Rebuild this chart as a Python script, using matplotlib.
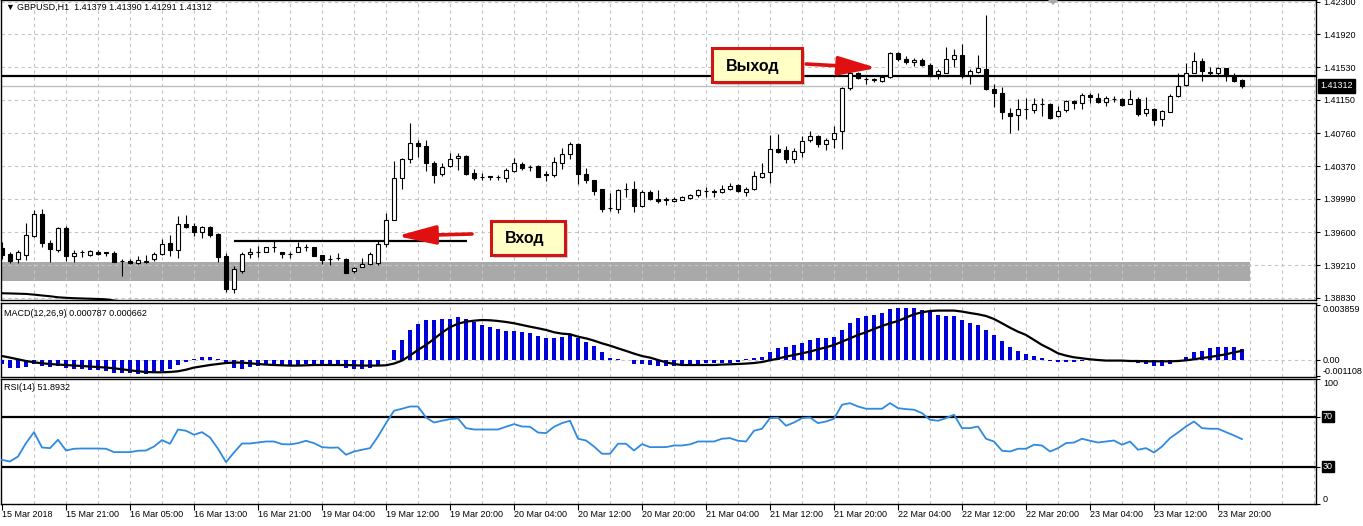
import matplotlib.pyplot as plt
import matplotlib.patches as mpatches
import matplotlib.transforms as mtransforms
import numpy as np

W, H = 1363, 526

# GBPUSD H1, bar by bar
opens = [1.3941, 1.3934, 1.3928, 1.3933, 1.3955, 1.3981, 1.3947, 1.3939, 1.3965, 1.3932,
         1.3936, 1.3933, 1.3937, 1.3936, 1.3935, 1.3926, 1.3926, 1.3924, 1.3925, 1.3928,
         1.3934, 1.3947, 1.3939, 1.3969, 1.3967, 1.3960, 1.3966, 1.3958, 1.3932, 1.3893,
         1.3914, 1.3934, 1.3937, 1.3937, 1.3942, 1.3936, 1.3934, 1.3937, 1.3943, 1.3942,
         1.3933, 1.3928, 1.3930, 1.3928, 1.3914, 1.3919, 1.3922, 1.3924, 1.3946, 1.3974,
         1.4023, 1.4046, 1.4064, 1.4061, 1.4041, 1.4028, 1.4037, 1.4047, 1.4049, 1.4029,
         1.4024, 1.4026, 1.4024, 1.4023, 1.4032, 1.4040, 1.4036, 1.4037, 1.4028, 1.4027,
         1.4041, 1.4051, 1.4063, 1.4028, 1.4021, 1.4010, 1.3988, 1.3987, 1.4010, 1.4010,
         1.3991, 1.4007, 1.3999, 1.3998, 1.3996, 1.3998, 1.4000, 1.4003, 1.4008, 1.4008,
         1.4007, 1.4011, 1.4015, 1.4007, 1.4010, 1.4025, 1.4030, 1.4057, 1.4056, 1.4046,
         1.4054, 1.4068, 1.4073, 1.4063, 1.4069, 1.4078, 1.4129, 1.4147, 1.4139, 1.4138,
         1.4137, 1.4142, 1.4170, 1.4163, 1.4159, 1.4162, 1.4156, 1.4145, 1.4147, 1.4163,
         1.4168, 1.4144, 1.4148, 1.4151, 1.4128, 1.4123, 1.4100, 1.4097, 1.4104, 1.4103,
         1.4110, 1.4110, 1.4096, 1.4103, 1.4114, 1.4111, 1.4121, 1.4117, 1.4112, 1.4116,
         1.4116, 1.4110, 1.4116, 1.4099, 1.4104, 1.4092, 1.4101, 1.4119, 1.4132, 1.4147,
         1.4161, 1.4147, 1.4147, 1.4152, 1.4143, 1.41379]
highs = [1.3948, 1.3937, 1.3939, 1.3971, 1.3986, 1.3987, 1.3951, 1.3966, 1.3967, 1.3939,
         1.3939, 1.3939, 1.3939, 1.3936, 1.3938, 1.3928, 1.3928, 1.3932, 1.3933, 1.3937,
         1.3952, 1.3957, 1.3979, 1.3980, 1.3971, 1.3967, 1.3967, 1.3959, 1.3935, 1.3920,
         1.3937, 1.3941, 1.3944, 1.3943, 1.3949, 1.3937, 1.3937, 1.3948, 1.3946, 1.3943,
         1.3933, 1.3933, 1.3935, 1.3929, 1.3919, 1.3930, 1.3937, 1.3949, 1.3982, 1.4043,
         1.4047, 1.4088, 1.4068, 1.4068, 1.4043, 1.4041, 1.4053, 1.4053, 1.4050, 1.4034,
         1.4029, 1.4026, 1.4027, 1.4035, 1.4047, 1.4042, 1.4039, 1.4039, 1.4031, 1.4048,
         1.4059, 1.4065, 1.4064, 1.4035, 1.4021, 1.4011, 1.4006, 1.4010, 1.4018, 1.4020,
         1.4009, 1.4009, 1.4009, 1.4001, 1.4001, 1.4002, 1.4005, 1.4011, 1.4013, 1.4010,
         1.4015, 1.4017, 1.4016, 1.4013, 1.4031, 1.4041, 1.4074, 1.4075, 1.4061, 1.4058,
         1.4072, 1.4079, 1.4074, 1.4070, 1.4084, 1.4130, 1.4149, 1.4148, 1.4142, 1.4140,
         1.4143, 1.4171, 1.4171, 1.4166, 1.4164, 1.4164, 1.4158, 1.4151, 1.4177, 1.4174,
         1.4180, 1.4151, 1.4168, 1.4214, 1.4134, 1.4130, 1.4105, 1.4116, 1.4117, 1.4117,
         1.4117, 1.4111, 1.4108, 1.4115, 1.4115, 1.4123, 1.4123, 1.4123, 1.4119, 1.4119,
         1.4117, 1.4127, 1.4118, 1.4118, 1.4105, 1.4103, 1.4122, 1.4147, 1.4158, 1.4171,
         1.4164, 1.4154, 1.4154, 1.4152, 1.4146, 1.41390]
lows = [1.3928, 1.3924, 1.3924, 1.3927, 1.3954, 1.3942, 1.3925, 1.3937, 1.3926, 1.3925,
        1.3931, 1.3932, 1.3933, 1.3932, 1.3925, 1.3908, 1.3923, 1.3923, 1.3924, 1.3926,
        1.3933, 1.3932, 1.3930, 1.3965, 1.3955, 1.3953, 1.3954, 1.3925, 1.3890, 1.3889,
        1.3912, 1.3930, 1.3931, 1.3936, 1.3937, 1.3930, 1.3930, 1.3937, 1.3938, 1.3932,
        1.3923, 1.3921, 1.3927, 1.3912, 1.3912, 1.3919, 1.3921, 1.3921, 1.3942, 1.3974,
        1.4010, 1.4041, 1.4048, 1.4032, 1.4017, 1.4026, 1.4036, 1.4033, 1.4027, 1.4021,
        1.4021, 1.4021, 1.4021, 1.4019, 1.4030, 1.4033, 1.4032, 1.4024, 1.4020, 1.4025,
        1.4034, 1.4046, 1.4016, 1.4018, 1.4003, 1.3984, 1.3985, 1.3982, 1.4001, 1.3984,
        1.3989, 1.3998, 1.3994, 1.3992, 1.3995, 1.3997, 1.3999, 1.4001, 1.4001, 1.4001,
        1.4006, 1.4009, 1.4007, 1.4002, 1.4009, 1.4023, 1.4017, 1.4053, 1.4041, 1.4041,
        1.4048, 1.4066, 1.4060, 1.4056, 1.4059, 1.4057, 1.4127, 1.4139, 1.4134, 1.4136,
        1.4136, 1.4140, 1.4160, 1.4157, 1.4155, 1.4155, 1.4143, 1.4139, 1.4147, 1.4153,
        1.4141, 1.4134, 1.4147, 1.4127, 1.4107, 1.4092, 1.4076, 1.4080, 1.4093, 1.4100,
        1.4096, 1.4093, 1.4095, 1.4101, 1.4104, 1.4104, 1.4111, 1.4111, 1.4108, 1.4113,
        1.4108, 1.4110, 1.4096, 1.4096, 1.4086, 1.4084, 1.4101, 1.4118, 1.4131, 1.4147,
        1.4137, 1.4143, 1.4143, 1.4137, 1.4136, 1.41291]
closes = [1.3933, 1.3926, 1.3937, 1.3957, 1.3981, 1.3947, 1.3940, 1.3965, 1.3932, 1.3935,
          1.3937, 1.3938, 1.3934, 1.3935, 1.3925, 1.3926, 1.3924, 1.3927, 1.3926, 1.3934,
          1.3946, 1.3939, 1.3969, 1.3966, 1.3960, 1.3966, 1.3957, 1.3931, 1.3893, 1.3917,
          1.3934, 1.3937, 1.3937, 1.3942, 1.3943, 1.3934, 1.3934, 1.3942, 1.3942, 1.3932,
          1.3927, 1.3928, 1.3929, 1.3912, 1.3918, 1.3923, 1.3934, 1.3946, 1.3974, 1.4023,
          1.4046, 1.4064, 1.4061, 1.4041, 1.4027, 1.4036, 1.4046, 1.4049, 1.4028, 1.4023,
          1.4024, 1.4024, 1.4024, 1.4033, 1.4041, 1.4035, 1.4036, 1.4025, 1.4027, 1.4042,
          1.4051, 1.4063, 1.4028, 1.4021, 1.4008, 1.3987, 1.3988, 1.4009, 1.4010, 1.3990,
          1.4007, 1.3999, 1.3996, 1.3998, 1.3999, 1.4001, 1.4003, 1.4009, 1.4008, 1.4007,
          1.4011, 1.4014, 1.4008, 1.4010, 1.4026, 1.4029, 1.4057, 1.4054, 1.4046, 1.4055,
          1.4067, 1.4073, 1.4063, 1.4068, 1.4076, 1.4129, 1.4147, 1.4140, 1.4139, 1.4139,
          1.4142, 1.4170, 1.4163, 1.4159, 1.4162, 1.4156, 1.4143, 1.4149, 1.4163, 1.4168,
          1.4143, 1.4149, 1.4152, 1.4128, 1.4123, 1.4101, 1.4096, 1.4104, 1.4104, 1.4110,
          1.4110, 1.4094, 1.4102, 1.4114, 1.4111, 1.4121, 1.4118, 1.4112, 1.4117, 1.4116,
          1.4109, 1.4116, 1.4098, 1.4104, 1.4091, 1.4102, 1.4120, 1.4131, 1.4147, 1.4161,
          1.4149, 1.4147, 1.4152, 1.4143, 1.4137, 1.41312]

# slow moving average, only its tail is visible at bottom left
ma_line = [1.38882, 1.38880, 1.38877, 1.38874, 1.38866, 1.38856, 1.38847, 1.38835,
           1.38829, 1.38824, 1.38821, 1.38818, 1.38815, 1.38811, 1.38797, 1.38785]

macd_hist = [-0.00023, -0.00054, -0.00054, -0.00047, -0.00028, -0.00040, -0.00047, -0.00042, -0.00054, -0.00058,
             -0.00063, -0.00070, -0.00070, -0.00072, -0.00086, -0.00089, -0.00091, -0.00093, -0.00096, -0.00086,
             -0.00077, -0.00063, -0.00035, -0.00012, 0.00012, 0.00023, 0.00023, 0.00012, -0.00023, -0.00054,
             -0.00058, -0.00047, -0.00042, -0.00035, -0.00035, -0.00040, -0.00040, -0.00035, -0.00023, -0.00030,
             -0.00040, -0.00042, -0.00040, -0.00054, -0.00058, -0.00058, -0.00054, -0.00035, 0.00002, 0.00070,
             0.00140, 0.00211, 0.00258, 0.00281, 0.00281, 0.00288, 0.00293, 0.00302, 0.00288, 0.00269,
             0.00246, 0.00234, 0.00223, 0.00204, 0.00204, 0.00199, 0.00192, 0.00171, 0.00159, 0.00159,
             0.00164, 0.00176, 0.00157, 0.00128, 0.00098, 0.00058, 0.00019, 0.00012, 0.00000, -0.00023,
             -0.00023, -0.00035, -0.00040, -0.00040, -0.00040, -0.00035, -0.00032, -0.00026, -0.00021, -0.00021,
             -0.00021, -0.00016, -0.00009, 0.00007, 0.00014, 0.00026, 0.00061, 0.00084, 0.00096, 0.00107,
             0.00124, 0.00143, 0.00154, 0.00154, 0.00166, 0.00213, 0.00260, 0.00295, 0.00311, 0.00318,
             0.00330, 0.00360, 0.00370, 0.00370, 0.00365, 0.00353, 0.00349, 0.00318, 0.00311, 0.00311,
             0.00283, 0.00260, 0.00248, 0.00213, 0.00178, 0.00135, 0.00096, 0.00065, 0.00044, 0.00030,
             0.00014, -0.00005, -0.00009, -0.00009, -0.00009, -0.00005, 0.00000, 0.00000, 0.00000, 0.00000,
             0.00000, -0.00003, -0.00016, -0.00026, -0.00037, -0.00037, -0.00028, -0.00009, 0.00026, 0.00056,
             0.00065, 0.00084, 0.00091, 0.00091, 0.00091, 0.000787]
macd_signal = [0.00030, 0.00019, 0.00007, -0.00005, -0.00014, -0.00021, -0.00026, -0.00030, -0.00033, -0.00037,
               -0.00040, -0.00044, -0.00047, -0.00051, -0.00056, -0.00063, -0.00070, -0.00077, -0.00082, -0.00084,
               -0.00084, -0.00082, -0.00077, -0.00066, -0.00051, -0.00042, -0.00033, -0.00026, -0.00019, -0.00016,
               -0.00016, -0.00021, -0.00026, -0.00030, -0.00033, -0.00035, -0.00037, -0.00037, -0.00035, -0.00033,
               -0.00033, -0.00033, -0.00033, -0.00033, -0.00035, -0.00037, -0.00037, -0.00037, -0.00035, -0.00023,
               -0.00002, 0.00033, 0.00073, 0.00108, 0.00150, 0.00194, 0.00232, 0.00257, 0.00271, 0.00278,
               0.00283, 0.00281, 0.00276, 0.00269, 0.00260, 0.00248, 0.00236, 0.00225, 0.00213, 0.00197,
               0.00187, 0.00183, 0.00166, 0.00154, 0.00138, 0.00119, 0.00103, 0.00084, 0.00066, 0.00047,
               0.00030, 0.00019, 0.00002, -0.00014, -0.00026, -0.00033, -0.00033, -0.00033, -0.00033, -0.00033,
               -0.00030, -0.00028, -0.00026, -0.00023, -0.00019, -0.00012, 0.00000, 0.00012, 0.00026, 0.00037,
               0.00049, 0.00061, 0.00077, 0.00091, 0.00108, 0.00131, 0.00154, 0.00178, 0.00197, 0.00220,
               0.00241, 0.00260, 0.00276, 0.00300, 0.00323, 0.00337, 0.00346, 0.00349, 0.00349, 0.00349,
               0.00342, 0.00332, 0.00323, 0.00311, 0.00290, 0.00260, 0.00229, 0.00201, 0.00178, 0.00143,
               0.00108, 0.00080, 0.00049, 0.00033, 0.00021, 0.00014, 0.00007, 0.00002, -0.00002, -0.00002,
               -0.00002, -0.00005, -0.00005, -0.00007, -0.00007, -0.00007, -0.00007, -0.00005, 0.00000, 0.00007,
               0.00016, 0.00023, 0.00033, 0.00042, 0.00056, 0.000662]

rsi = [35.3, 34.0, 38.0, 48.7, 57.5, 45.2, 44.7, 51.4, 42.8, 44.2,
       44.4, 44.4, 44.4, 44.2, 41.5, 41.5, 41.5, 42.6, 42.8, 46.0,
       51.1, 48.2, 59.6, 58.6, 55.4, 57.5, 53.2, 44.2, 33.5, 41.2,
       48.4, 48.4, 49.2, 50.0, 50.0, 47.9, 47.7, 48.7, 50.6, 48.7,
       45.5, 45.0, 45.2, 39.4, 42.0, 43.4, 44.7, 54.0, 64.7, 74.6,
       76.2, 78.0, 78.0, 69.2, 65.2, 66.6, 67.9, 68.4, 60.7, 59.6,
       59.6, 59.6, 59.6, 61.8, 63.9, 62.0, 61.8, 57.2, 56.7, 61.8,
       64.7, 66.6, 52.2, 50.8, 46.0, 40.2, 40.2, 48.2, 48.2, 42.8,
       47.9, 45.5, 45.5, 45.5, 46.8, 46.8, 47.7, 50.0, 50.0, 50.0,
       52.2, 52.7, 50.6, 50.0, 58.6, 60.2, 68.7, 69.0, 62.6, 65.2,
       68.7, 69.2, 64.7, 66.0, 68.2, 79.4, 80.7, 78.0, 76.2, 76.2,
       76.2, 80.7, 76.7, 75.9, 75.4, 72.7, 67.4, 66.6, 68.7, 71.4,
       60.7, 60.7, 62.0, 52.2, 50.0, 42.6, 42.0, 44.2, 44.2, 47.4,
       46.8, 42.0, 44.7, 48.7, 49.2, 52.2, 50.6, 49.2, 50.0, 50.8,
       47.4, 50.0, 43.4, 44.7, 41.2, 46.0, 52.7, 57.2, 62.0, 66.0,
       60.7, 60.2, 60.2, 57.5, 54.8, 51.9]

date_labels = ["15 Mar 2018", "15 Mar 21:00", "16 Mar 05:00", "16 Mar 13:00", "16 Mar 21:00",
               "19 Mar 04:00", "19 Mar 12:00", "19 Mar 20:00", "20 Mar 04:00", "20 Mar 12:00",
               "20 Mar 20:00", "21 Mar 04:00", "21 Mar 12:00", "21 Mar 20:00", "22 Mar 04:00",
               "22 Mar 12:00", "22 Mar 20:00", "23 Mar 04:00", "23 Mar 12:00", "23 Mar 20:00"]
price_ticks = [1.42300, 1.41920, 1.41530, 1.41150, 1.40760, 1.40370, 1.39990, 1.39600, 1.39210, 1.38830]
macd_ticks = [-0.001108, 0.0, 0.003859]

exit_level = 1.41429
entry_level = 1.39498
entry_span = (29, 58.1)
bid_price = 1.41312
zone = (1.39029, 1.39245)
zone_end = 156

plt.rcParams['font.family'] = ['Liberation Sans', 'DejaVu Sans']
FS = 6.5

bars = np.arange(len(closes))
o = np.array(opens)
c = np.array(closes)


def px_box(left, top, width, height):
    return [left / W, 1 - (top + height) / H, width / W, height / H]


fig = plt.figure(figsize=(W / 100, H / 100), dpi=100, facecolor='white')
ax = fig.add_axes(px_box(1, 0, 1315, 300))
ax_macd = fig.add_axes(px_box(1, 303, 1315, 74))
ax_rsi = fig.add_axes(px_box(1, 379, 1315, 125))

grid_kw = dict(color='#c4c4c4', lw=0.8, ls=(0, (3, 3)), zorder=2)
for a in (ax, ax_macd, ax_rsi):
    a.set_xlim(-0.125, 164.25)
    for s in a.spines.values():
        s.set_color('black')
        s.set_linewidth(1)
    for g in np.arange(4, 165, 4):
        a.axvline(g, **grid_kw)

# ---- price panel
ax.set_ylim(1.38803, 1.42320)
for p in price_ticks:
    ax.axhline(p, **grid_kw)
ax.fill_between([-1, zone_end], zone[0], zone[1], color='#a9a9a9', lw=0, zorder=1)
ax.axhline(bid_price, color='#c0c0c0', lw=1, zorder=2.5)
ax.axhline(exit_level, color='black', lw=1.6, zorder=2.6)
ax.hlines(entry_level, *entry_span, color='black', lw=1.6, zorder=2.6)
ax.plot(bars[:len(ma_line)], ma_line, color='black', lw=1.5, zorder=2.6)

body_lo = np.minimum(o, c)
body_h = np.maximum(np.abs(c - o), 0.000012)
ax.vlines(bars, lows, highs, color='black', lw=0.8, zorder=3)
ax.bar(bars, body_h, bottom=body_lo, width=0.5,
       color=np.where(c >= o, 'white', 'black'), edgecolor='black', lw=0.8, zorder=4)

ax.set_yticks(price_ticks)
ax.set_yticklabels([f"{p:.5f}" for p in price_ticks])
ax.yaxis.tick_right()
ax.tick_params(axis='y', direction='out', length=3, pad=2, labelsize=FS, width=0.8)
ax.set_xticks([])

trans = mtransforms.blended_transform_factory(ax.transAxes, ax.transData)
ax.text(1 + 4 / 1315, bid_price, f"{bid_price:.5f}", transform=trans, ha='left', va='center',
        fontsize=FS, color='white', clip_on=False, zorder=10,
        bbox=dict(boxstyle='square,pad=0.25', fc='black', ec='black'))

fig.text(5 / W, 1 - 7 / H, '▼', fontsize=6.5, va='center', ha='left')
fig.text(17 / W, 1 - 7 / H, 'GBPUSD,H1  1.41379 1.41390 1.41291 1.41312', fontsize=FS,
         va='center', ha='left')
fig.patches.append(mpatches.Polygon([[1048 / W, 1.0], [1058 / W, 1.0], [1053 / W, 1 - 5 / H]],
                                    closed=True, transform=fig.transFigure, fc='#a8a8a8', ec='none'))

# ---- MACD panel
ax_macd.set_ylim(-0.001172, 0.004022)
ax_macd.axhline(0, **grid_kw)
ax_macd.bar(bars, macd_hist, width=0.4, color='#0000d8', zorder=3)
ax_macd.plot(bars, macd_signal, color='black', lw=1.6, zorder=4)
ax_macd.set_yticks(macd_ticks)
ax_macd.set_yticklabels(['-0.001108', '0.00', '0.003859'])
ax_macd.yaxis.tick_right()
ax_macd.tick_params(axis='y', direction='out', length=3, pad=2, labelsize=FS, width=0.8)
for lbl, va in zip(ax_macd.get_yticklabels(), ['bottom', 'center', 'top']):
    lbl.set_va(va)
ax_macd.set_xticks([])
fig.text(4 / W, 1 - 313 / H, 'MACD(12,26,9) 0.000787 0.000662', fontsize=FS, va='center')

# ---- RSI panel
ax_rsi.set_ylim(0, 100)
ax_rsi.axhline(70, color='black', lw=1.6, zorder=3)
ax_rsi.axhline(30, color='black', lw=1.6, zorder=3)
ax_rsi.plot(bars, rsi, color='#2f8ae0', lw=1.3, zorder=4)
ax_rsi.set_yticks([0, 30, 70, 100])
ax_rsi.set_yticklabels(['0', '30', '70', '100'])
ax_rsi.yaxis.tick_right()
ax_rsi.tick_params(axis='y', direction='out', length=3, pad=2, labelsize=FS, width=0.8)
for lbl, va in zip(ax_rsi.get_yticklabels(), ['bottom', 'center', 'center', 'top']):
    lbl.set_va(va)
for lbl in ax_rsi.get_yticklabels()[1:3]:
    lbl.set_color('white')
    lbl.set_bbox(dict(boxstyle='square,pad=0.15', fc='black', ec='black'))
fig.text(4 / W, 1 - 388 / H, 'RSI(14) 51.8932', fontsize=FS, va='center')

ax_rsi.set_xticks(bars[::8])
ax_rsi.set_xticklabels(date_labels)
ax_rsi.tick_params(axis='x', direction='out', length=4, pad=0.5, labelsize=FS, width=0.8)
for lbl in ax_rsi.get_xticklabels():
    lbl.set_ha('left')


# ---- annotation boxes and arrows (pixel positions, top-left origin)
def note(x0, y0, x1, y1, text, tx, ty):
    fig.patches.append(mpatches.Rectangle(((x0 + 3) / W, 1 - (y1 + 3) / H), (x1 - x0) / W, (y1 - y0) / H,
                                          transform=fig.transFigure, fc='#9a9a9a', ec='none', alpha=0.45))
    fig.patches.append(mpatches.Rectangle((x0 / W, 1 - y1 / H), (x1 - x0) / W, (y1 - y0) / H,
                                          transform=fig.transFigure, fc='#ffffc6', ec='#d01515', lw=2.2))
    fig.text(tx / W, 1 - ty / H, text, fontsize=11.5, fontweight='bold', ha='center', va='center',
             family='Liberation Sans')


def arrow(x0, y0, x1, y1):
    ax.annotate('', xy=(x1, H - y1), xytext=(x0, H - y0), xycoords='figure pixels',
                textcoords='figure pixels', annotation_clip=False,
                arrowprops=dict(arrowstyle='-|>,head_length=1.3,head_width=0.32', mutation_scale=18,
                                color='#e01010', lw=2.6, shrinkA=0, shrinkB=0))


note(491, 221, 565, 255, 'Вход', 525, 238)
arrow(472, 234, 397, 236)
note(712, 48, 802, 82, 'Выход', 753, 66)
arrow(806, 64, 877, 68)

fig.savefig('out.png', dpi=100, facecolor='white')
